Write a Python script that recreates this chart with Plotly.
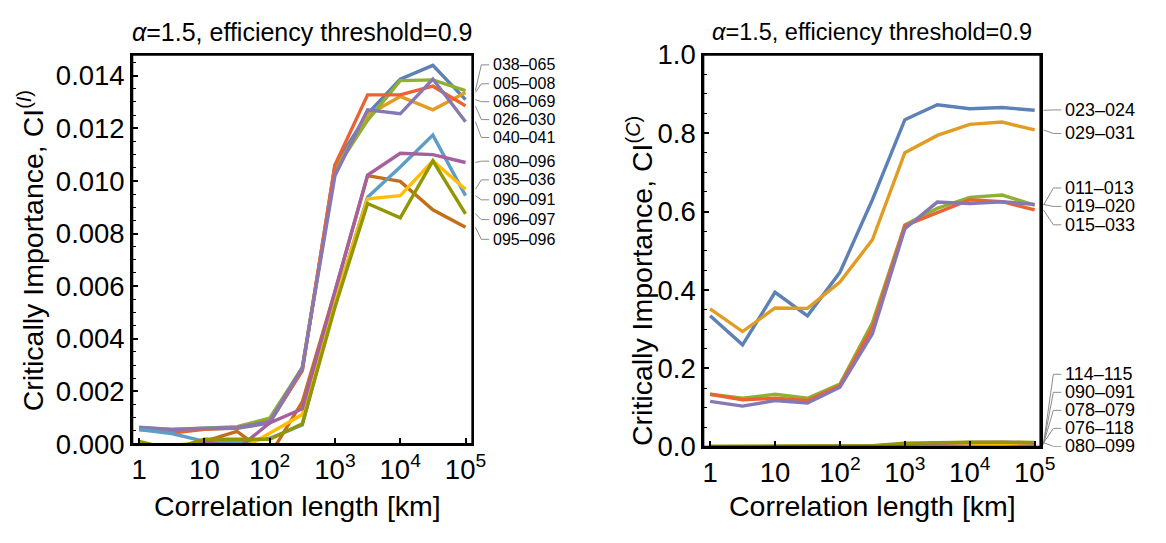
import plotly.graph_objects as go

# Correlation length sample points [km] (half-decade steps)
corr_length_km = [1, 3.162, 10, 31.62, 100, 316.2, 1000, 3162, 10000, 31623, 100000]

x_tick_vals = [1, 10, 100, 1000, 10000, 100000]
x_tick_text = ["1", "10", "10<sup>2</sup>", "10<sup>3</sup>", "10<sup>4</sup>", "10<sup>5</sup>"]

# Left panel: CI^(I) for the ten most critical links
left_names = ["068-069", "005-008", "038-065", "026-030", "040-041",
              "095-096", "090-091", "035-036", "080-096", "096-097"]
ci_i_068_069 = [0.00055, 0.00050, 0.00058, 0.00060, 0.00080, 0.00280, 0.01060, 0.01255, 0.01387, 0.01439, 0.01309]
ci_i_005_008 = [0.00060, 0.00050, 0.00058, 0.00062, 0.00090, 0.00290, 0.01040, 0.01250, 0.01321, 0.01270, 0.01336]
ci_i_038_065 = [0.00062, 0.00055, 0.00060, 0.00066, 0.00098, 0.00290, 0.01040, 0.01230, 0.01381, 0.01384, 0.01343]
ci_i_026_030 = [0.00059, 0.00042, 0.00056, 0.00062, 0.00085, 0.00280, 0.01060, 0.01327, 0.01327, 0.01360, 0.01285]
ci_i_040_041 = [0.00064, 0.00055, 0.00060, 0.00062, 0.00085, 0.00290, 0.01020, 0.01270, 0.01255, 0.01387, 0.01225]
ci_i_095_096 = [-0.00010, -0.00020, 0.00010, 0.00048, -0.00043, 0.00160, 0.00580, 0.01020, 0.00998, 0.00890, 0.00824]
ci_i_090_091 = [0.00055, 0.00040, 0.00010, 0.00006, 0.00022, 0.00072, 0.00540, 0.00938, 0.01053, 0.01174, 0.00944]
ci_i_035_036 = [-0.00020, -0.00005, 0.00008, -0.00030, 0.00040, 0.00112, 0.00540, 0.00932, 0.00944, 0.01076, 0.00968]
ci_i_080_096 = [-0.00030, -0.00020, 0.00012, -0.00020, 0.00080, 0.00134, 0.00580, 0.01022, 0.01105, 0.01100, 0.01070]
ci_i_096_097 = [0.00010, -0.00020, 0.00018, 0.00018, 0.00018, 0.00077, 0.00520, 0.00914, 0.00860, 0.01076, 0.00875]
left_values = [ci_i_068_069, ci_i_005_008, ci_i_038_065, ci_i_026_030, ci_i_040_041,
               ci_i_095_096, ci_i_090_091, ci_i_035_036, ci_i_080_096, ci_i_096_097]

# Right panel: CI^(C)
right_names = ["023-024", "029-031", "011-013", "015-033", "019-020",
               "114-115", "090-091", "078-079", "076-118", "080-099"]
ci_c_023_024 = [0.334, 0.260, 0.394, 0.334, 0.445, 0.630, 0.834, 0.872, 0.862, 0.865, 0.858]
ci_c_029_031 = [0.352, 0.294, 0.354, 0.353, 0.420, 0.528, 0.750, 0.794, 0.822, 0.828, 0.808]
ci_c_011_013 = [0.134, 0.124, 0.134, 0.124, 0.160, 0.316, 0.566, 0.608, 0.636, 0.642, 0.616]
ci_c_015_033 = [0.134, 0.120, 0.124, 0.118, 0.156, 0.304, 0.564, 0.598, 0.630, 0.625, 0.604]
ci_c_019_020 = [0.116, 0.104, 0.118, 0.112, 0.152, 0.288, 0.556, 0.624, 0.620, 0.625, 0.618]
ci_c_114_115 = [0.001, 0.001, 0.001, 0.001, 0.001, 0.002, 0.006, 0.008, 0.009, 0.009, 0.008]
ci_c_090_091 = [0.000, 0.000, 0.000, 0.000, 0.000, 0.001, 0.005, 0.007, 0.008, 0.008, 0.006]
ci_c_078_079 = [0.000, 0.000, 0.000, 0.000, 0.000, 0.001, 0.006, 0.008, 0.009, 0.009, 0.008]
ci_c_076_118 = [0.000, 0.000, 0.000, 0.000, 0.000, 0.002, 0.007, 0.010, 0.011, 0.012, 0.010]
ci_c_080_099 = [0.001, 0.001, 0.001, 0.001, 0.001, 0.003, 0.009, 0.011, 0.012, 0.012, 0.011]
right_values = [ci_c_023_024, ci_c_029_031, ci_c_011_013, ci_c_015_033, ci_c_019_020,
                ci_c_114_115, ci_c_090_091, ci_c_078_079, ci_c_076_118, ci_c_080_099]

palette = ["#5E81B5", "#E19C24", "#8FB032", "#EB6235", "#8778B3",
           "#C56E1A", "#5D9EC7", "#FFBF00", "#A5609D", "#929600"]

# Label placement for the callouts (axis data units, top to bottom)
left_label_order = ["038-065", "005-008", "068-069", "026-030", "040-041",
                    "080-096", "035-036", "090-091", "096-097", "095-096"]
left_label_y = [0.01441, 0.01369, 0.01301, 0.01233, 0.01165,
                0.01075, 0.01004, 0.00928, 0.00853, 0.00778]
right_label_order = ["023-024", "029-031", "011-013", "019-020", "015-033",
                     "114-115", "090-091", "078-079", "076-118", "080-099"]
right_label_y = [0.859, 0.799, 0.660, 0.613, 0.566,
                 0.185, 0.139, 0.093, 0.047, 0.001]

W, H = 1166, 543
FONT = "Liberation Sans, Arial, sans-serif"


def px(x):
    return x / W


def py(y):
    return 1 - y / H


L_X0, L_X1, L_Y0, L_Y1 = 133, 478, 42, 455
R_X0, R_X1, R_Y0, R_Y1 = 712, 1054, 42, 458

fig = go.Figure()

for name, vals, col in zip(left_names, left_values, palette):
    fig.add_trace(go.Scatter(x=corr_length_km, y=vals, mode="lines", name=name,
                             line=dict(color=col, width=3.4), xaxis="x", yaxis="y"))
for name, vals, col in zip(right_names, right_values, palette):
    fig.add_trace(go.Scatter(x=corr_length_km, y=vals, mode="lines", name=name,
                             line=dict(color=col, width=3.4), xaxis="x2", yaxis="y2"))

axis_common = dict(showline=True, linecolor="black", linewidth=2, mirror=True,
                   ticks="inside", tickcolor="black", tickwidth=1.5, ticklen=6,
                   showgrid=False, zeroline=False,
                   tickfont=dict(family=FONT, size=27.5, color="black"))

fig.update_layout(
    width=W, height=H, margin=dict(l=0, r=0, t=0, b=0),
    paper_bgcolor="white", plot_bgcolor="white", showlegend=False,
    xaxis=dict(type="log", range=[-0.106, 5.106], domain=[px(L_X0), px(L_X1)], anchor="y",
               tickvals=x_tick_vals, ticktext=x_tick_text, **axis_common),
    yaxis=dict(range=[0, 0.0148], domain=[py(L_Y1), py(L_Y0)], anchor="x",
               dtick=0.002, tickformat=".3f",
               minor=dict(ticks="inside", dtick=0.0005, ticklen=3.5, tickcolor="black", tickwidth=1),
               **axis_common),
    xaxis2=dict(type="log", range=[-0.106, 5.09], domain=[px(R_X0), px(R_X1)], anchor="y2",
                tickvals=x_tick_vals, ticktext=x_tick_text, **axis_common),
    yaxis2=dict(range=[0, 1.0], domain=[py(R_Y1), py(R_Y0)], anchor="x2",
                dtick=0.2, tickformat=".1f",
                minor=dict(ticks="inside", dtick=0.05, ticklen=3.5, tickcolor="black", tickwidth=1),
                **axis_common),
)

shapes = []
annotations = []

# Black frame around each panel
for x0, x1, y0, y1 in [(L_X0, L_X1, L_Y0, L_Y1), (R_X0, R_X1, R_Y0, R_Y1)]:
    shapes.append(dict(type="rect", xref="paper", yref="paper", layer="above",
                       x0=px(x0), x1=px(x1), y0=py(y1), y1=py(y0),
                       line=dict(color="black", width=2.2), fillcolor="rgba(0,0,0,0)"))


# Callout labels with leader lines
def callouts(names, values, order, label_ys, yref, x_frame, gap, size):
    ends = {n: v[-1] for n, v in zip(names, values)}
    for name, ly in zip(order, label_ys):
        ey = ends[name]
        x_end, x_elbow, x_txt = px(x_frame + 3), px(x_frame + gap - 10), px(x_frame + gap - 2)
        shapes.append(dict(type="path", xref="paper", yref=yref,
                           path=f"M {x_end},{ey} L {x_elbow},{ly} L {x_txt},{ly}",
                           line=dict(color="#8c8c8c", width=1)))
        annotations.append(dict(x=px(x_frame + gap), y=ly, xref="paper", yref=yref,
                                text=name.replace("-", "–"), showarrow=False,
                                xanchor="left", yanchor="middle",
                                font=dict(family=FONT, size=size, color="black")))


callouts(left_names, left_values, left_label_order, left_label_y, "y", L_X1, 19, 16)
callouts(right_names, right_values, right_label_order, right_label_y, "y2", R_X1, 23, 18)

title_text = "<i>α</i>=1.5, efficiency threshold=0.9"
for cx, size in [((L_X0 + L_X1) / 2, 25), ((R_X0 + R_X1) / 2, 23.5)]:
    annotations.append(dict(x=px(cx), y=py(18), xref="paper", yref="paper", text=title_text,
                            showarrow=False, xanchor="center", yanchor="middle",
                            font=dict(family=FONT, size=size, color="black")))

for cx, txt in [(301, "Correlation length [km]"), (884, "Correlation length [km]")]:
    annotations.append(dict(x=px(cx), y=py(521), xref="paper", yref="paper", text=txt,
                            showarrow=False, xanchor="center", yanchor="middle",
                            font=dict(family=FONT, size=28.5, color="black")))
for cx, cy, txt in [(30, 250, "Critically Importance, CI<sup>(<i>I</i>)</sup>"),
                    (648, 282, "Critically Importance, CI<sup>(<i>C</i>)</sup>")]:
    annotations.append(dict(x=px(cx), y=py(cy), xref="paper", yref="paper", text=txt,
                            textangle=-90, showarrow=False, xanchor="center", yanchor="middle",
                            font=dict(family=FONT, size=28.5, color="black")))

fig.update_layout(shapes=shapes, annotations=annotations)
fig.write_html("out.html")
